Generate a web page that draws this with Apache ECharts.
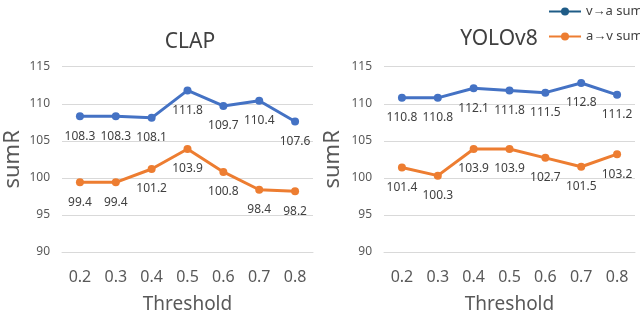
<!DOCTYPE html>
<html><head><meta charset="utf-8">
<script src="https://cdn.jsdelivr.net/npm/echarts@6/dist/echarts.min.js"></script>
<style>html,body{margin:0;padding:0;background:#fff}#c{width:640px;height:319px}</style>
</head><body><div id="c"></div>
<script>
var categories = ['0.2','0.3','0.4','0.5','0.6','0.7','0.8'];
var clapVA = [108.3,108.3,108.1,111.8,109.7,110.4,107.6];
var clapAV = [99.4,99.4,101.2,103.9,100.8,98.4,98.2];
var yoloVA = [110.8,110.8,112.1,111.8,111.5,112.8,111.2];
var yoloAV = [101.4,100.3,103.9,103.9,102.7,101.5,103.2];
var titles = ['CLAP','YOLOv8'];
var seriesNames = ['v\u2192a sumR','a\u2192v sumR'];

var FONT = 'Noto Sans';
var BLUE = '#4472C4', ORANGE = '#ED7D31', GRAY = '#595959';
var chart = echarts.init(document.getElementById('c'));

function xAx(i){return {type:'category',gridIndex:i,data:categories,boundaryGap:true,
  axisTick:{show:false},axisLine:{show:true,lineStyle:{color:'#d9d9d9'}},
  axisLabel:{color:GRAY,fontSize:16,fontFamily:FONT,margin:17},
  name:'Threshold',nameLocation:'middle',nameGap:43,
  nameTextStyle:{color:GRAY,fontSize:19,fontFamily:FONT}};}
function yAx(i,gap){return {type:'value',gridIndex:i,min:90,max:115,interval:5,
  axisLine:{show:false},axisTick:{show:false},
  splitLine:{lineStyle:{color:'#d9d9d9',width:1}},
  axisLabel:{color:GRAY,fontSize:12,fontFamily:FONT,margin:12},
  name:'sumR',nameLocation:'middle',nameGap:gap,
  nameTextStyle:{color:GRAY,fontSize:22,fontFamily:FONT}};}
function ser(name,data,color,i){return {name:name,type:'line',xAxisIndex:i,yAxisIndex:i,data:data,
  symbol:'circle',symbolSize:8,lineStyle:{width:3,color:color},itemStyle:{color:color},
  label:{show:true,position:'bottom',distance:10,color:'#404040',fontSize:12,fontFamily:FONT}};}

chart.setOption({
  animation:false,
  backgroundColor:'#fff',
  title:[
    {text:titles[0],left:185,top:27,textAlign:'center',textStyle:{color:'#404040',fontSize:21,fontWeight:'normal',fontFamily:FONT}},
    {text:titles[1],left:494,top:24,textAlign:'center',textStyle:{color:'#404040',fontSize:21,fontWeight:'normal',fontFamily:FONT}}
  ],
  legend:{orient:'vertical',left:543,top:0,itemGap:12,itemWidth:32,itemHeight:10,
    textStyle:{color:'#404040',fontSize:13,fontFamily:FONT},
    data:[{name:seriesNames[0],itemStyle:{color:'#1F5C87'},lineStyle:{color:'#1F5C87'}},
          {name:seriesNames[1],itemStyle:{color:ORANGE},lineStyle:{color:ORANGE}}]},
  grid:[
    {left:62,width:251,top:66.7,height:191.6},
    {left:384,width:251,top:66.7,height:191.6}
  ],
  xAxis:[xAx(0),xAx(1)],
  yAxis:[yAx(0,38),yAx(1,40)],
  series:[
    ser(seriesNames[0],clapVA,BLUE,0),
    ser(seriesNames[1],clapAV,ORANGE,0),
    ser(seriesNames[0],yoloVA,BLUE,1),
    ser(seriesNames[1],yoloAV,ORANGE,1)
  ]
});
</script></body></html>
